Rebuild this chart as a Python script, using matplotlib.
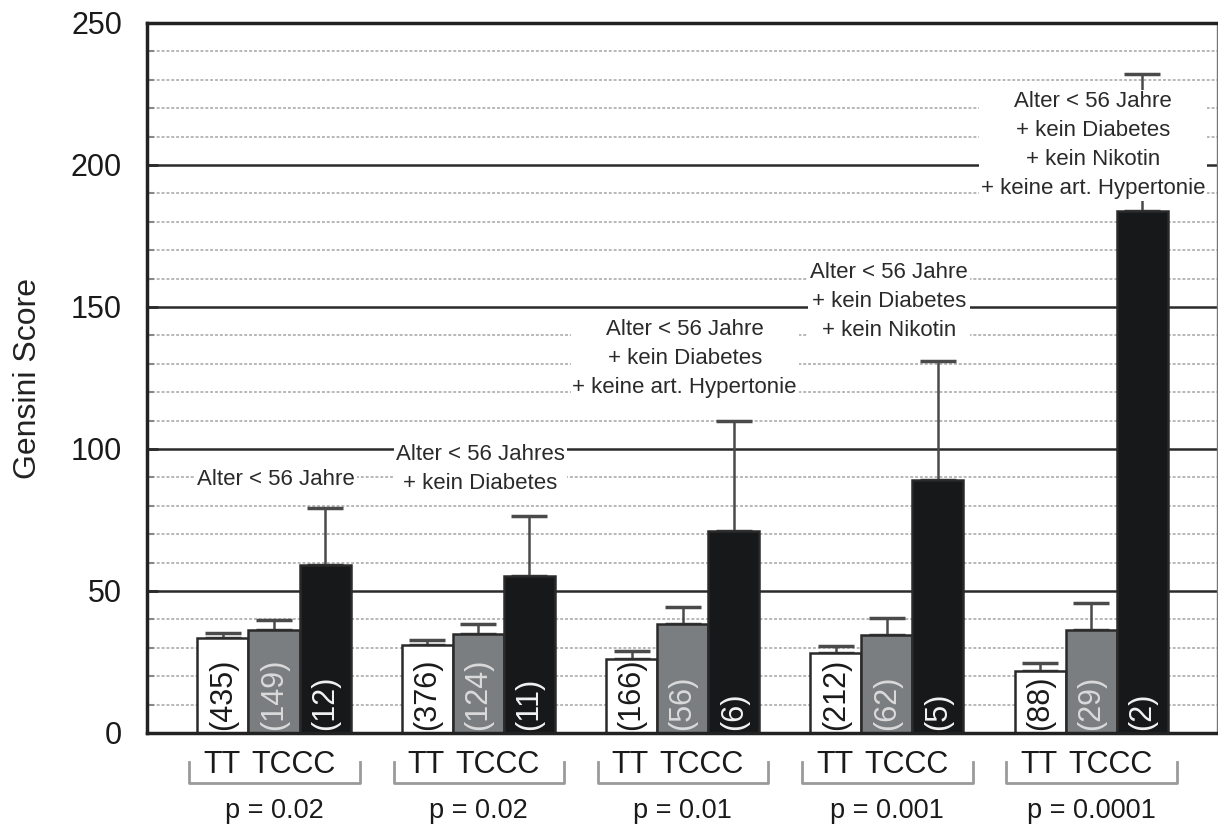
import numpy as np
import matplotlib
matplotlib.use("Agg")
import matplotlib.pyplot as plt
from matplotlib.transforms import blended_transform_factory

plt.rcParams['font.family'] = ['Liberation Sans', 'DejaVu Sans']

# data
p_labels = ['p = 0.02', 'p = 0.02', 'p = 0.01', 'p = 0.001', 'p = 0.0001']

tt_mean = [33.3, 31.0, 26.1, 28.2, 21.7]
tt_err = [1.8, 1.7, 2.6, 2.3, 3.0]
tt_n = ['(435)', '(376)', '(166)', '(212)', '(88)']

tc_mean = [36.2, 34.9, 38.5, 34.6, 36.4]
tc_err = [3.6, 3.5, 5.7, 5.9, 9.4]
tc_n = ['(149)', '(124)', '(56)', '(62)', '(29)']

cc_mean = [59.1, 55.2, 71.2, 89.2, 183.9]
cc_err = [20.1, 21.3, 38.6, 41.7, 48.1]
cc_n = ['(12)', '(11)', '(6)', '(5)', '(2)']

notes = ['Alter < 56 Jahre',
         'Alter < 56 Jahres\n+ kein Diabetes',
         'Alter < 56 Jahre\n+ kein Diabetes\n+ keine art. Hypertonie',
         'Alter < 56 Jahre\n+ kein Diabetes\n+ kein Nikotin',
         'Alter < 56 Jahre\n+ kein Diabetes\n+ kein Nikotin\n+ keine art. Hypertonie']

# layout only: vertical centre of each note (in score units)
note_y = [89.1, 93.0, 131.9, 151.8, 206.9]

x = np.arange(len(p_labels))
w = 0.25

fig = plt.figure(figsize=(12.18, 8.27), dpi=100)
ax = fig.add_axes([0.1207, 0.1137, 0.8785, 0.8585])
ax.set_xlim(-0.6216, 4.616)
ax.set_ylim(0, 250)

# grid lines
for v in range(10, 250, 10):
    if v % 50 == 0:
        ax.axhline(v, color='#2b2b2b', lw=1.8, zorder=0.5)
    else:
        ax.axhline(v, color='#b8b8b8', lw=1.4, ls=(0, (1.5, 1)), zorder=0.5)

series = [(x - w, tt_mean, tt_err, tt_n, 'white', '#1a1a1a'),
          (x, tc_mean, tc_err, tc_n, '#7b7e81', '#dadada'),
          (x + w, cc_mean, cc_err, cc_n, '#17181a', '#f2f2f2')]

for xs, mean, err, nlab, fc, tcol in series:
    ax.bar(xs, mean, width=w, color=fc, edgecolor='#2a2a2a', lw=1.8, zorder=2)
    ax.errorbar(xs, mean, yerr=[np.zeros(len(mean)), err], fmt='none',
                ecolor='#4a4a4a', elinewidth=1.8, capsize=13, capthick=2.5, zorder=1.8)
    for xi, t in zip(xs, nlab):
        ax.text(xi, 1.0, t, rotation=90, ha='center', va='bottom',
                fontsize=22, color=tcol, zorder=3)

for xi, t, yv in zip(x, notes, note_y):
    ax.text(xi + 0.01, yv, t, ha='center', va='center', fontsize=16,
            color='#2a2a2a', linespacing=1.5, zorder=4,
            bbox=dict(boxstyle='square,pad=0.08', fc='white', ec='none'))

# labels under the axis
trans = blended_transform_factory(ax.transData, ax.transAxes)
for xi, p in zip(x, p_labels):
    ax.text(xi - 0.255, -0.0563, 'TT', transform=trans, ha='center',
            va='baseline', fontsize=22, color='#1a1a1a')
    ax.text(xi + 0.095, -0.0563, 'TCCC', transform=trans, ha='center',
            va='baseline', fontsize=22, color='#1a1a1a')
    ax.plot([xi - 0.415, xi - 0.415, xi + 0.42, xi + 0.42],
            [-0.0408, -0.0704, -0.0704, -0.0408], transform=trans,
            color='#9a9a9a', lw=2, clip_on=False)
    ax.text(xi, -0.1197, p, transform=trans, ha='center', va='baseline',
            fontsize=19.5, color='#1a1a1a')

ax.set_xticks([])
ax.set_yticks(range(0, 251, 50))
ax.set_yticks(range(0, 251, 10), minor=True)
ax.tick_params(axis='y', which='major', direction='in', length=8, width=2,
               color='#2b2b2b', labelsize=22, pad=18, labelcolor='#1a1a1a')
ax.tick_params(axis='y', which='minor', direction='in', length=5, width=1.5,
               color='#888888')

for side in ['left', 'bottom', 'top']:
    ax.spines[side].set_linewidth(2.5)
    ax.spines[side].set_color('#222222')
ax.spines['right'].set_linewidth(1)
ax.spines['right'].set_color('#777777')

fig.text(28 / 1218, 1 - 378 / 827, 'Gensini Score', rotation=90,
         ha='center', va='center', fontsize=23, color='#222222')

fig.savefig('out.png', dpi=100)
